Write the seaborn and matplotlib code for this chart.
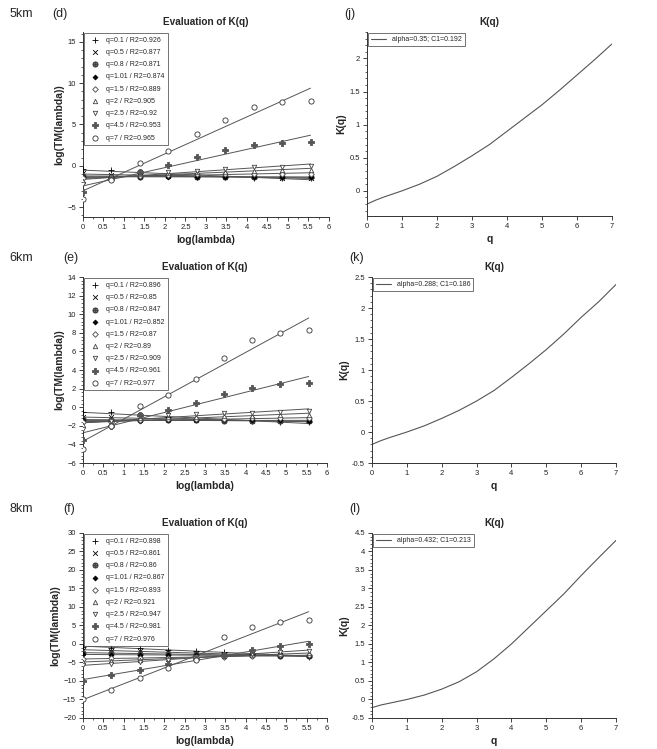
import numpy as np
import matplotlib
matplotlib.use('Agg')
import matplotlib.pyplot as plt
from matplotlib.ticker import AutoMinorLocator, MultipleLocator
import seaborn as sns

sns.set_style("ticks")
plt.rcParams['font.family'] = ['Liberation Sans', 'DejaVu Sans']

# log(lambda) for lambda = 1, 2, 4, ..., 256
log_lambda = [0, 0.69, 1.39, 2.08, 2.77, 3.47, 4.16, 4.85, 5.55]

q_values = ['0.1', '0.5', '0.8', '1.01', '1.5', '2', '2.5', '4.5', '7']

r2_5km = ['0.926', '0.877', '0.871', '0.874', '0.889', '0.905', '0.92', '0.953', '0.965']
r2_6km = ['0.896', '0.85', '0.847', '0.852', '0.87', '0.89', '0.909', '0.961', '0.977']
r2_8km = ['0.898', '0.861', '0.86', '0.867', '0.893', '0.921', '0.947', '0.981', '0.976']

# log(TM(lambda)) per q (rows follow q_values)
tm_5km = [
    [-0.4, -0.5, -0.9, -1.1, -1.3, -1.35, -1.45, -1.5, -1.5],
    [-0.9, -1.1, -1.2, -1.2, -1.3, -1.35, -1.4, -1.45, -1.5],
    [-1.2, -1.3, -1.3, -1.25, -1.3, -1.3, -1.35, -1.4, -1.4],
    [-1.3, -1.4, -1.35, -1.3, -1.3, -1.35, -1.35, -1.35, -1.4],
    [-1.5, -1.5, -1.2, -1.1, -1.0, -1.0, -1.0, -0.95, -0.95],
    [-1.8, -1.5, -1.0, -0.9, -0.8, -0.7, -0.6, -0.5, -0.5],
    [-2.2, -1.4, -0.8, -0.7, -0.6, -0.4, -0.2, -0.1, -0.05],
    [-3.2, -1.6, -0.8, 0.1, 1.1, 1.9, 2.5, 2.8, 2.9],
    [-4.0, -1.7, 0.3, 1.8, 3.9, 5.6, 7.1, 7.7, 7.9],
]
tm_6km = [
    [-0.5, -0.5, -0.9, -1.1, -1.3, -1.4, -1.5, -1.55, -1.6],
    [-1.0, -1.1, -1.2, -1.3, -1.35, -1.4, -1.45, -1.5, -1.5],
    [-1.3, -1.35, -1.4, -1.4, -1.4, -1.45, -1.45, -1.5, -1.5],
    [-1.4, -1.5, -1.45, -1.4, -1.4, -1.4, -1.4, -1.4, -1.45],
    [-1.6, -1.6, -1.4, -1.3, -1.25, -1.25, -1.2, -1.2, -1.2],
    [-1.9, -1.7, -1.2, -1.1, -1.0, -0.95, -0.9, -0.85, -0.8],
    [-2.3, -1.5, -0.8, -0.8, -0.7, -0.65, -0.6, -0.5, -0.4],
    [-3.5, -2.0, -0.8, -0.3, 0.5, 1.4, 2.1, 2.5, 2.6],
    [-4.5, -2.0, 0.1, 1.3, 3.0, 5.3, 7.2, 8.0, 8.3],
]
tm_8km = [
    [-0.7, -1.0, -1.2, -1.5, -1.8, -2.2, -2.6, -3.0, -3.4],
    [-1.5, -1.8, -2.0, -2.2, -2.5, -2.7, -3.0, -3.1, -3.3],
    [-2.3, -2.5, -2.6, -2.7, -2.8, -3.0, -3.1, -3.2, -3.3],
    [-2.8, -2.9, -2.9, -3.0, -3.0, -3.1, -3.1, -3.2, -3.2],
    [-4.0, -3.9, -3.8, -3.7, -3.6, -3.4, -3.3, -3.1, -3.0],
    [-4.8, -4.6, -4.3, -4.0, -3.7, -3.3, -3.0, -2.7, -2.5],
    [-5.8, -5.3, -4.8, -4.3, -3.6, -3.0, -2.6, -2.2, -1.8],
    [-10.0, -8.5, -7.0, -5.5, -4.0, -3.0, -1.5, -0.5, 0.0],
    [-15.0, -12.5, -9.3, -6.5, -4.3, 1.8, 4.7, 6.0, 6.6],
]

# K(q) curves
q_grid = [0, 0.25, 0.5, 0.75, 1, 1.5, 2, 2.5, 3, 3.5, 4, 4.5, 5, 5.5, 6, 6.5, 7]
k_5km = [-0.2, -0.14, -0.09, -0.045, 0.0, 0.1, 0.22, 0.37, 0.53, 0.7, 0.9, 1.1, 1.3, 1.52, 1.75, 1.98, 2.22]
k_6km = [-0.2, -0.14, -0.09, -0.045, 0.0, 0.1, 0.22, 0.35, 0.5, 0.67, 0.88, 1.1, 1.33, 1.58, 1.85, 2.1, 2.38]
k_8km = [-0.22, -0.15, -0.1, -0.05, 0.0, 0.12, 0.28, 0.48, 0.75, 1.1, 1.5, 1.95, 2.4, 2.85, 3.35, 3.83, 4.3]
k_labels = ['alpha=0.35; C1=0.192', 'alpha=0.288; C1=0.186', 'alpha=0.432; C1=0.213']

# marker, filled?, colour, size
marker_styles = [
    ('+', True, 'black', 14),
    ('x', True, 'black', 12),
    (r'$\oplus$', True, '#444444', 14),
    ('D', True, 'black', 6),
    ('D', False, '#444444', 8),
    ('^', False, '#444444', 10),
    ('v', False, '#444444', 10),
    ('P', True, '#555555', 20),
    ('o', False, '#333333', 14),
]

fig = plt.figure(figsize=(6.57, 7.49), dpi=100)

left_pos = [
    [0.1263, 0.7103, 0.3744, 0.2470],
    [0.1263, 0.3818, 0.3714, 0.2483],
    [0.1263, 0.0414, 0.3714, 0.2470],
]
right_pos = [
    [0.5586, 0.7116, 0.3729, 0.2457],
    [0.5662, 0.3818, 0.3714, 0.2483],
    [0.5662, 0.0414, 0.3714, 0.2470],
]
left_ylims = [(-6.2, 16.2), (-6, 14), (-20, 30)]
left_ysteps = [5, 2, 5]
right_ylims = [(-0.38, 2.4), (-0.5, 2.5), (-0.5, 4.5)]

tm_sets = [tm_5km, tm_6km, tm_8km]
r2_sets = [r2_5km, r2_6km, r2_8km]
k_sets = [k_5km, k_6km, k_8km]
km_names = ['5km', '6km', '8km']
left_tags = ['(d)', '(e)', '(f)']
right_tags = ['(j)', '(k)', '(l)']
row_text_y = [0.981, 0.655, 0.321]
left_tag_x = [0.079, 0.096, 0.096]


def style_axes(ax):
    sns.despine(ax=ax)
    ax.tick_params(labelsize=5.5, length=3, width=0.6, colors='#222222', pad=2)
    ax.tick_params(which='minor', length=1.5, width=0.5)
    ax.yaxis.set_minor_locator(AutoMinorLocator(5))
    ax.xaxis.set_minor_locator(AutoMinorLocator(2))
    for s in ('left', 'bottom'):
        ax.spines[s].set_linewidth(0.7)
        ax.spines[s].set_color('#333333')


for i in range(3):
    ax = fig.add_axes(left_pos[i])
    for j, q in enumerate(q_values):
        m, filled, col, size = marker_styles[j]
        face = col if filled else 'white'
        sns.regplot(
            x=log_lambda, y=tm_sets[i][j], ax=ax, ci=None, marker=m,
            scatter_kws={'s': size, 'facecolors': face, 'edgecolors': col,
                         'linewidths': 0.6, 'alpha': 1, 'zorder': 3},
            line_kws={'color': '#555555', 'lw': 0.7},
            color=col,
            label=f'q={q} / R2={r2_sets[i][j]}',
        )
    ax.set_xlim(0, 6)
    ax.set_ylim(*left_ylims[i])
    ax.xaxis.set_major_locator(MultipleLocator(0.5))
    ax.yaxis.set_major_locator(MultipleLocator(left_ysteps[i]))
    ax.xaxis.set_major_formatter(plt.FuncFormatter(lambda v, p: f'{v:g}'))
    style_axes(ax)
    ax.set_xlabel('log(lambda)', fontsize=7.5, fontweight='bold', labelpad=3)
    ax.set_ylabel('log(TM(lambda))', fontsize=7.5, fontweight='bold', labelpad=2)
    ax.set_title('Evaluation of K(q)', fontsize=7.2, fontweight='bold', pad=5)
    leg = ax.legend(loc='upper left', fontsize=5, frameon=True, fancybox=False,
                    edgecolor='#333333', borderpad=0.5, labelspacing=0.75,
                    handletextpad=0.6, borderaxespad=0.2, markerscale=1.0)
    leg.get_frame().set_linewidth(0.6)

    fig.text(0.015, row_text_y[i], km_names[i], fontsize=9, va='center')
    fig.text(left_tag_x[i], row_text_y[i], left_tags[i], fontsize=9, va='center')

for i in range(3):
    ax = fig.add_axes(right_pos[i])
    sns.lineplot(x=q_grid, y=k_sets[i], ax=ax, color='#555555', lw=0.8,
                 label=k_labels[i])
    ax.set_xlim(0, 7)
    ax.set_ylim(*right_ylims[i])
    ax.xaxis.set_major_locator(MultipleLocator(1))
    ax.yaxis.set_major_locator(MultipleLocator(0.5))
    ax.yaxis.set_major_formatter(plt.FuncFormatter(lambda v, p: f'{v:g}'))
    style_axes(ax)
    ax.xaxis.set_minor_locator(AutoMinorLocator(1))
    ax.set_xlabel('q', fontsize=7.5, fontweight='bold', labelpad=3)
    ax.set_ylabel('K(q)', fontsize=7.5, fontweight='bold', labelpad=2)
    ax.set_title('K(q)', fontsize=7.2, fontweight='bold', pad=5)
    leg = ax.legend(loc='upper left', fontsize=5, frameon=True, fancybox=False,
                    edgecolor='#333333', borderpad=0.4, handlelength=2.2,
                    borderaxespad=0.2)
    leg.get_frame().set_linewidth(0.6)
    fig.text(right_pos[i][0] - 0.035, row_text_y[i], right_tags[i], fontsize=9, va='center')

fig.savefig('out.png', dpi=100)
